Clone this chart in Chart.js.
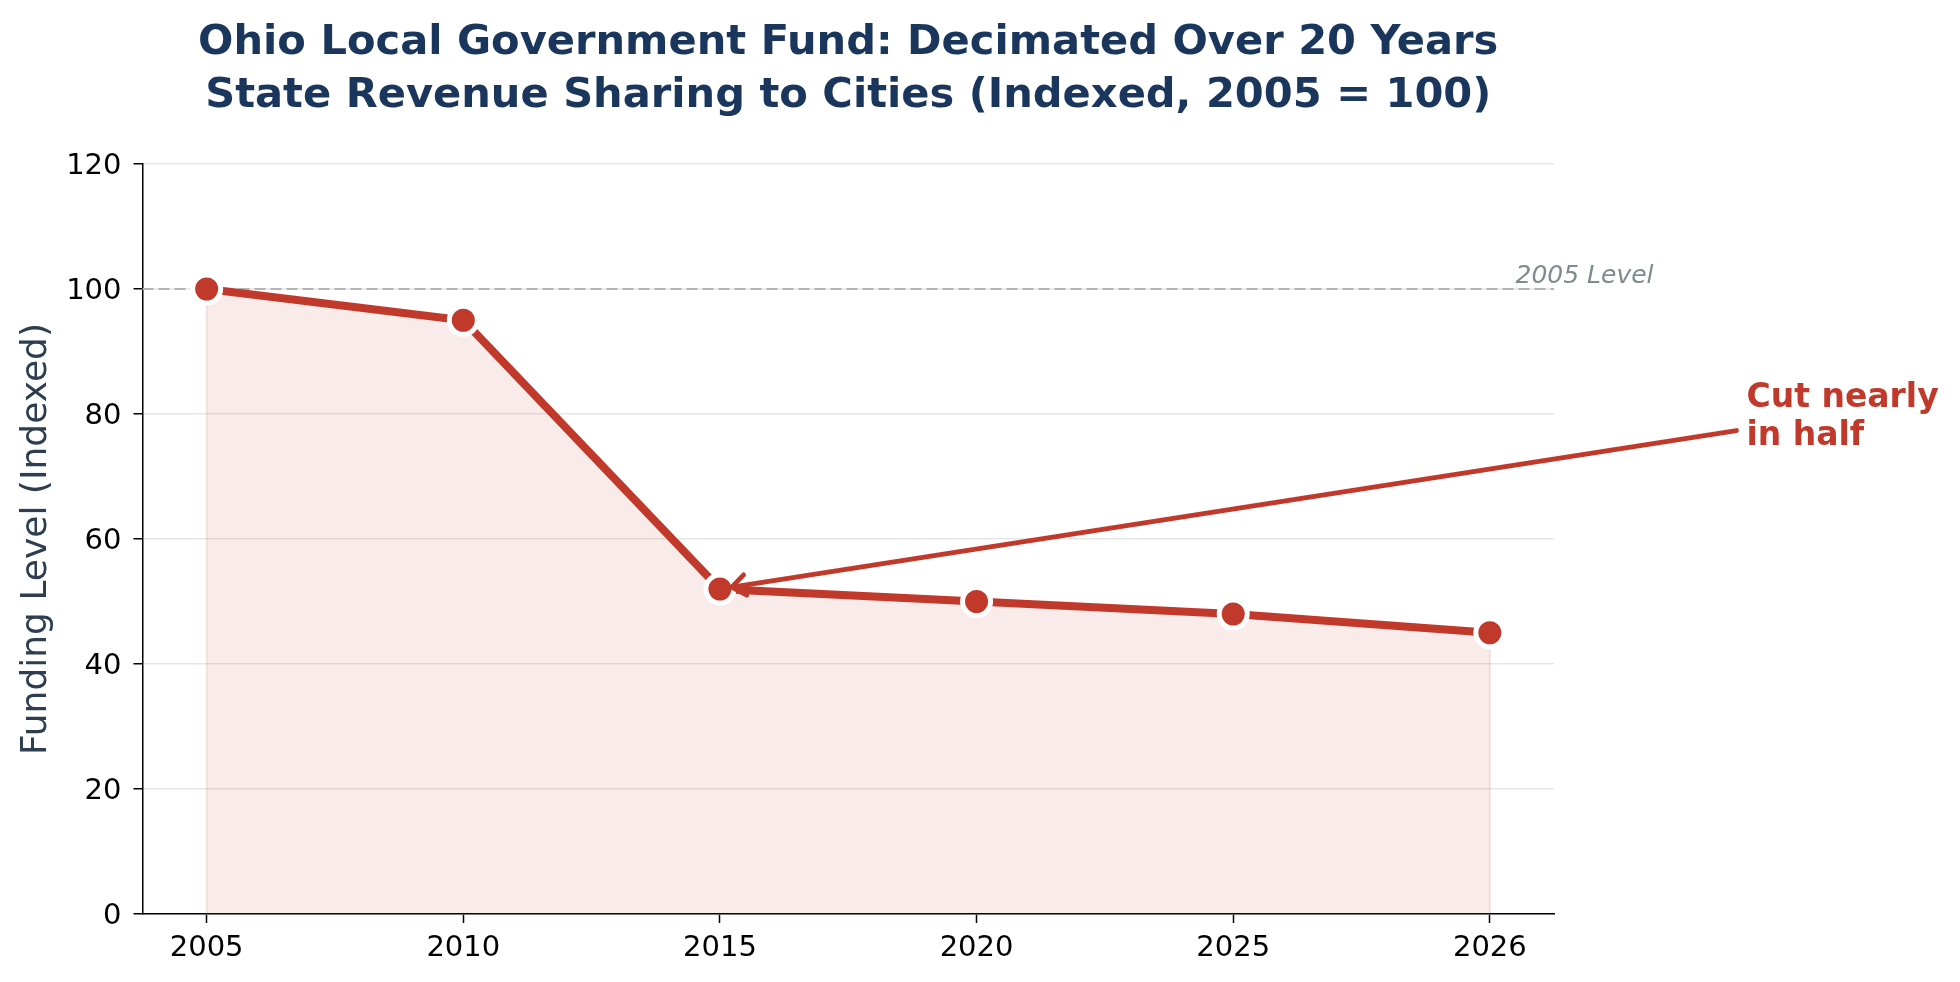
<!DOCTYPE html>
<html><head><meta charset="utf-8">
<script src="https://cdn.jsdelivr.net/npm/chart.js@4/dist/chart.umd.min.js"></script>
<style>html,body{margin:0;padding:0;background:#fff;}canvas{display:block;}</style>
</head><body>
<canvas id="c" width="1960" height="982"></canvas>
<script>
// ---- data ----
const years = ['2005', '2010', '2015', '2020', '2025', '2026'];
const fundingIndex = [100, 95, 52, 50, 48, 45];
const yTickValues = [0, 20, 40, 60, 80, 100, 120];
const titleLines = ['Ohio Local Government Fund: Decimated Over 20 Years', 'State Revenue Sharing to Cities (Indexed, 2005 = 100)'];
const yAxisLabel = 'Funding Level (Indexed)';
const baselineValue = 100;
const baselineLabel = '2005 Level';
const baselineLabelPos = [5.1, 101];
const calloutLines = ['Cut nearly', 'in half'];
const calloutTargetIndex = 2;
const calloutTextPos = [6.0, 80];

const FONT = "'DejaVu Sans', sans-serif";
const RED = '#c0392b';

const overlay = {
  id: 'overlay',
  beforeDatasetsDraw(chart) {
    const { ctx, chartArea: a, scales: { x, y } } = chart;
    ctx.save();
    // fill edges
    ctx.strokeStyle = 'rgba(192,57,43,0.12)';
    ctx.lineWidth = 2;
    [0, fundingIndex.length - 1].forEach(i => {
      ctx.beginPath();
      ctx.moveTo(x.getPixelForValue(i), y.getPixelForValue(0));
      ctx.lineTo(x.getPixelForValue(i), y.getPixelForValue(fundingIndex[i]));
      ctx.stroke();
    });
    // baseline dashed
    const by = y.getPixelForValue(baselineValue);
    ctx.strokeStyle = '#b4b4b4';
    ctx.lineWidth = 2.2;
    ctx.setLineDash([11, 5]);
    ctx.beginPath();
    ctx.moveTo(a.left, by);
    ctx.lineTo(a.right, by);
    ctx.stroke();
    ctx.restore();
  },
  afterDraw(chart) {
    const { ctx, chartArea: a, scales: { x, y } } = chart;
    ctx.save();
    // title
    ctx.fillStyle = '#1a365d';
    ctx.font = `bold 41.6px ${FONT}`;
    ctx.textAlign = 'center';
    ctx.textBaseline = 'alphabetic';
    const cx = (a.left + a.right) / 2;
    ctx.fillText(titleLines[0], cx, 54);
    ctx.fillText(titleLines[1], cx, 107);
    // y label
    ctx.save();
    ctx.translate(37, (a.top + a.bottom) / 2);
    ctx.rotate(-Math.PI / 2);
    ctx.fillStyle = '#2c3e50';
    ctx.font = `36px ${FONT}`;
    ctx.textAlign = 'center';
    ctx.textBaseline = 'middle';
    ctx.fillText(yAxisLabel, 0, 0);
    ctx.restore();
    // baseline label
    ctx.fillStyle = '#7f8c8d';
    ctx.font = `italic 25px ${FONT}`;
    ctx.textAlign = 'left';
    ctx.textBaseline = 'alphabetic';
    ctx.fillText(baselineLabel, x.getPixelForValue(baselineLabelPos[0]), y.getPixelForValue(baselineLabelPos[1]));
    // callout text
    ctx.fillStyle = RED;
    ctx.font = `bold 33px ${FONT}`;
    const tx = x.getPixelForValue(calloutTextPos[0]);
    const tcy = y.getPixelForValue(calloutTextPos[1]);
    const lh = 38;
    ctx.fillText(calloutLines[0], tx, tcy - lh / 2 + 12);
    ctx.fillText(calloutLines[1], tx, tcy + lh / 2 + 12);
    const tw = Math.max(...calloutLines.map(s => ctx.measureText(s).width));
    // arrow
    const px = x.getPixelForValue(calloutTargetIndex);
    const py = y.getPixelForValue(fundingIndex[calloutTargetIndex]);
    const ccx = tx + tw / 2;
    const dx = ccx - px, dy = tcy - py;
    const len = Math.hypot(dx, dy);
    const ux = dx / len, uy = dy / len;
    const tailX = tx - 10;
    const tailY = py + uy * ((tailX - px) / ux);
    const tipX = px + ux * 12, tipY = py + uy * 12;
    ctx.strokeStyle = RED;
    ctx.lineWidth = 4.8;
    ctx.lineCap = 'round';
    ctx.lineJoin = 'round';
    ctx.beginPath();
    ctx.moveTo(tailX, tailY);
    ctx.lineTo(tipX, tipY);
    ctx.stroke();
    const ang = Math.atan2(uy, ux);
    const hl = 17, ha = 0.65;
    ctx.beginPath();
    ctx.moveTo(tipX + hl * Math.cos(ang + ha), tipY + hl * Math.sin(ang + ha));
    ctx.lineTo(tipX, tipY);
    ctx.lineTo(tipX + hl * Math.cos(ang - ha), tipY + hl * Math.sin(ang - ha));
    ctx.stroke();
    ctx.restore();
  }
};

new Chart(document.getElementById('c'), {
  type: 'line',
  data: {
    datasets: [{
      data: fundingIndex.map((v, i) => ({ x: i, y: v })),
      borderColor: RED,
      borderWidth: 8,
      backgroundColor: 'rgba(192,57,43,0.1)',
      fill: 'origin',
      tension: 0,
      pointRadius: 14,
      pointBackgroundColor: RED,
      pointBorderColor: '#ffffff',
      pointBorderWidth: 5,
      clip: false
    }]
  },
  options: {
    responsive: false,
    devicePixelRatio: 1,
    animation: false,
    layout: { padding: { left: 0, right: 406, top: 164, bottom: 0 } },
    plugins: { legend: { display: false }, tooltip: { enabled: false }, title: { display: false } },
    scales: {
      x: {
        type: 'linear',
        min: -0.25,
        max: 5.25,
        afterBuildTicks: s => { s.ticks = years.map((_, i) => ({ value: i })); },
        afterFit: s => { s.height = 68; },
        ticks: { callback: v => years[v], color: '#000', font: { family: FONT, size: 29 }, padding: 8, maxRotation: 0, autoSkip: false },
        grid: { drawOnChartArea: false, drawTicks: true, tickLength: 9, tickColor: '#000', tickWidth: 1.5 },
        border: { display: true, color: '#000', width: 1.5 }
      },
      y: {
        min: 0,
        max: 120,
        afterBuildTicks: s => { s.ticks = yTickValues.map(v => ({ value: v })); },
        afterFit: s => { s.width = 142.5; },
        ticks: { color: '#000', font: { family: FONT, size: 29 }, padding: 12, labelOffset: 2.5 },
        grid: { color: '#e6e6e6', lineWidth: 1.5, drawTicks: true, tickLength: 9, tickColor: '#000', tickWidth: 1.5 },
        border: { display: true, color: '#000', width: 1.5 }
      }
    }
  },
  plugins: [overlay]
});
</script>
</body></html>
